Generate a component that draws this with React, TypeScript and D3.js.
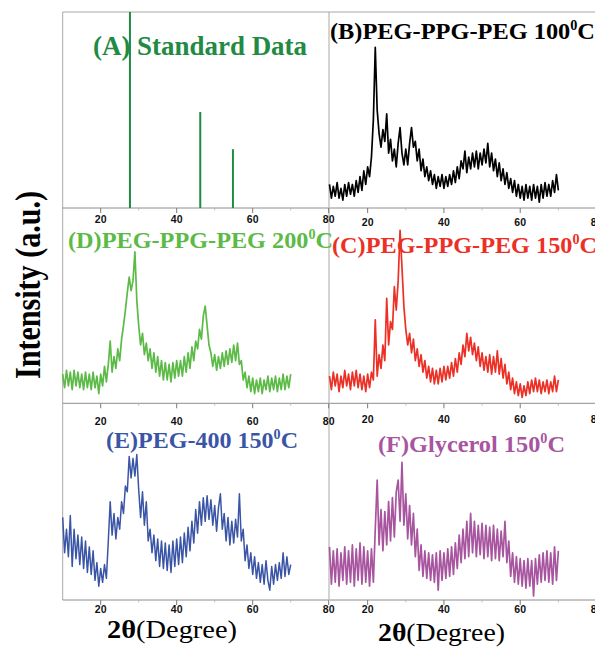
import React from 'react';
import * as d3 from 'd3';

// 2θ sampling grid (degrees) for the measured patterns
const TWO_THETA: number[] = d3.range(0, 121).map((i) => 10 + i * 0.5);

// (A) standard reference peaks
const STD_POSITIONS = [27.7, 46.2, 54.8];
const STD_INTENSITY = [100, 49, 30];

// (B) PEG-PPG-PEG 100 °C
const PEG_PPG_100 = [12,5,11,6,13,5,10,4,12,6, 13,7,12,6,14,8,16,9,19,12, 21,16,26,45,82,50,38,31,40,34, 48,28,35,24,30,21,33,41,28,22, 30,22,33,41,31,34,24,30,19,25, 16,21,14,19,12,17,10,16,11,17, 10,16,11,17,12,19,13,21,15,24, 20,29,18,26,20,28,21,29,20,28, 22,30,23,33,21,28,19,25,16,23, 14,20,12,18,10,15,8,14,6,12, 5,11,4,12,5,11,4,12,5,11, 3,12,5,13,6,12,6,14,8,17, 9];
// (C) PEG-PPG-PEG 150 °C
const PEG_PPG_150 = [14,7,16,9,15,6,14,8,17,9, 15,7,16,9,17,8,15,7,14,6, 15,8,16,12,43,14,25,18,30,22, 54,30,42,38,60,48,63,89,70,50, 38,30,36,26,33,22,28,19,25,16, 22,13,19,11,18,10,17,10,18,11, 19,12,19,13,21,14,23,16,26,20, 30,24,36,27,34,25,31,22,29,19, 26,17,24,16,25,15,24,16,27,15, 23,13,20,10,16,7,13,5,11,4, 10,3,9,4,11,5,12,6,13,6, 12,5,11,6,12,5,11,6,14,6, 12];
// (D) PEG-PPG-PEG 200 °C
const PEG_PPG_200 = [15,8,17,9,16,7,17,9,16,8, 15,7,16,8,15,7,16,8,14,5, 15,9,19,11,20,32,16,24,18,28, 22,33,40,48,57,65,58,63,78,53, 40,30,36,25,31,22,28,18,26,16, 24,14,22,12,21,12,20,11,21,13, 22,14,22,14,24,16,26,18,29,22, 32,28,38,33,45,50,40,30,26,19, 25,17,24,18,26,19,27,20,28,21, 30,22,31,20,22,12,16,8,14,6, 13,5,12,6,13,5,12,7,14,6, 13,7,14,6,13,7,15,7,14,8, 15];
// (E) PEG-400 150 °C
const PEG_400_150 = [42,24,36,22,43,17,36,21,33,18, 32,16,30,14,27,13,25,10,19,7, 16,9,18,11,30,50,33,44,31,42, 36,50,44,58,55,73,62,72,63,74, 56,42,55,38,50,30,36,24,33,20, 31,17,30,16,29,15,28,14,30,17, 31,18,32,19,34,22,37,25,40,29, 46,34,50,38,52,40,53,41,51,38, 48,35,47,54,36,44,30,42,28,40, 29,41,32,54,30,36,20,28,16,24, 13,22,11,19,9,18,8,20,10,5, 17,8,18,10,19,11,24,12,22,13, 18];
// (F) Glycerol 150 °C
const GLYCEROL_150 = [27,8,25,9,26,7,24,10,27,8, 25,9,28,7,26,10,29,8,27,9, 25,7,26,9,36,61,28,46,25,45, 28,50,30,52,32,55,61,40,70,38, 54,31,48,28,44,22,36,15,28,12, 25,11,24,10,23,9,24,5,25,10, 24,11,26,12,27,13,29,16,33,19, 36,21,40,22,44,24,40,22,38,23, 39,21,38,22,37,20,38,21,36,20, 35,22,40,19,30,12,24,9,22,8, 21,7,20,6,21,7,20,2,21,8, 23,9,24,10,25,9,24,8,27,10, 25];

const X_TICKS = [20, 40, 60, 80];
const X_MINOR = [30, 50, 70];
const X_DOMAIN: [number, number] = [10, 80];
const Y_DOMAIN: [number, number] = [0, 100];

const SERIF = '"Liberation Serif", "Times New Roman", serif';
const SANS = '"Liberation Sans", Arial, sans-serif';

const COLS = [
  { x0: 62.7, x1: 328.7 },
  { x0: 329.5, x1: 596.5 },
];
const ROWS = [
  { top: 12, bottom: 208 },
  { top: 209, bottom: 403.3 },
  { top: 403.3, bottom: 600 },
];

type Panel = {
  key: string;
  col: number;
  row: number;
  color: string;
  width: number;
  data?: number[];
  labelY: number;
  title: { pre: string; sup?: string; post?: string; x: number; y: number; size: number; len: number };
};

const PANELS: Panel[] = [
  { key: 'A', col: 0, row: 0, color: '#218a43', width: 2, labelY: 219,
    title: { pre: '(A) Standard Data', x: 93, y: 55, size: 27, len: 214 } },
  { key: 'B', col: 1, row: 0, color: '#000000', width: 1.7, data: PEG_PPG_100, labelY: 222,
    title: { pre: '(B)PEG-PPG-PEG 100', sup: '0', post: 'C', x: 330, y: 39, size: 24, len: 265 } },
  { key: 'D', col: 0, row: 1, color: '#5cba47', width: 1.7, data: PEG_PPG_200, labelY: 421,
    title: { pre: '(D)PEG-PPG-PEG 200', sup: '0', post: 'C', x: 68, y: 248, size: 24, len: 265 } },
  { key: 'C', col: 1, row: 1, color: '#ec3025', width: 1.7, data: PEG_PPG_150, labelY: 419,
    title: { pre: '(C)PEG-PPG-PEG 150', sup: '0', post: 'C', x: 332, y: 253, size: 24, len: 265 } },
  { key: 'E', col: 0, row: 2, color: '#3a55a5', width: 1.5, data: PEG_400_150, labelY: 609,
    title: { pre: '(E)PEG-400 150', sup: '0', post: 'C', x: 106, y: 448, size: 24, len: 192 } },
  { key: 'F', col: 1, row: 2, color: '#a8559f', width: 1.7, data: GLYCEROL_150, labelY: 609,
    title: { pre: '(F)Glycerol 150', sup: '0', post: 'C', x: 378, y: 452, size: 24, len: 187 } },
];

function PanelView({ p }: { p: Panel }) {
  const c = COLS[p.col];
  const r = ROWS[p.row];
  const x = d3.scaleLinear().domain(X_DOMAIN).range([c.x0, c.x1]);
  const y = d3.scaleLinear().domain(Y_DOMAIN).range([r.bottom, r.top]);
  const line = d3
    .line<number>()
    .x((_, i) => x(TWO_THETA[i]))
    .y((d) => y(d));
  const t = p.title;
  return (
    <g>
      {/* bottom axis */}
      <line x1={c.x0} x2={Math.min(c.x1, 595)} y1={r.bottom} y2={r.bottom} stroke="#8c8c8c" strokeWidth={1} />
      {X_TICKS.map((v) => (
        <line key={'t' + v} x1={x(v)} x2={x(v)} y1={r.bottom} y2={r.bottom + 5} stroke="#7a7a7a" strokeWidth={1} />
      ))}
      {X_MINOR.map((v) => (
        <line key={'m' + v} x1={x(v)} x2={x(v)} y1={r.bottom} y2={r.bottom + 2.5} stroke="#b0b0b0" strokeWidth={0.8} />
      ))}
      {X_TICKS.map((v) => (
        <text key={'l' + v} x={x(v)} y={p.labelY} textAnchor="middle" dominantBaseline="central"
          fontFamily={SANS} fontWeight="bold" fontSize={10.5} fill="#111">
          {v}
        </text>
      ))}
      {/* marks */}
      {p.data ? (
        <path d={line(p.data) || ''} fill="none" stroke={p.color} strokeWidth={p.width} strokeLinejoin="round" />
      ) : (
        STD_POSITIONS.map((pos, i) => (
          <line key={'s' + i} x1={x(pos)} x2={x(pos)} y1={y(0)} y2={y(STD_INTENSITY[i])} stroke={p.color} strokeWidth={p.width} />
        ))
      )}
      {/* title */}
      <text x={t.x} y={t.y} fontFamily={SERIF} fontWeight="bold" fontSize={t.size} fill={p.color}
        textLength={t.len} lengthAdjust="spacingAndGlyphs">
        {t.pre}
        {t.sup ? <tspan dy={-9} fontSize={14}>{t.sup}</tspan> : null}
        {t.post ? <tspan dy={9}>{t.post}</tspan> : null}
      </text>
    </g>
  );
}

export default function App() {
  return (
    <>
      <style>{`body{margin:0;}`}</style>
      <svg width={595} height={649} style={{ display: 'block', background: '#fff' }}>
        {/* frame lines */}
        <line x1={COLS[0].x0} x2={595} y1={ROWS[0].top} y2={ROWS[0].top} stroke="#a8a8a8" strokeWidth={1} />
        <line x1={COLS[0].x0} x2={COLS[0].x0} y1={ROWS[0].top} y2={ROWS[2].bottom} stroke="#a8a8a8" strokeWidth={1} />
        <line x1={329} x2={329} y1={ROWS[0].top} y2={ROWS[2].bottom} stroke="#a8a8a8" strokeWidth={1} />
        {PANELS.map((p) => (
          <PanelView key={p.key} p={p} />
        ))}
        {/* axis titles */}
        <text transform="translate(40,285) rotate(-90)" textAnchor="middle" fontFamily={SERIF}
          fontWeight="bold" fontSize={36} fill="#000" textLength={188} lengthAdjust="spacingAndGlyphs">
          Intensity (a.u.)
        </text>
        <text x={107} y={638} fontFamily={SERIF} fontSize={25} fill="#000" textLength={130} lengthAdjust="spacingAndGlyphs">
          <tspan fontWeight="bold">2θ</tspan>(Degree)
        </text>
        <text x={378} y={641} fontFamily={SERIF} fontSize={25} fill="#000" textLength={127} lengthAdjust="spacingAndGlyphs">
          <tspan fontWeight="bold">2θ</tspan>(Degree)
        </text>
      </svg>
    </>
  );
}
